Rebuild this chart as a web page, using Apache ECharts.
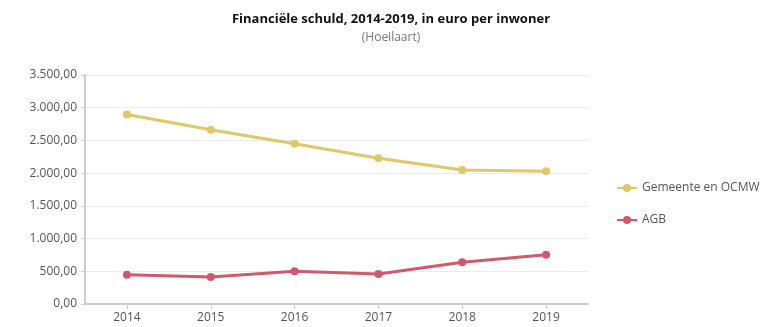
<!DOCTYPE html>
<html><head><meta charset="utf-8">
<script src="https://cdn.jsdelivr.net/npm/echarts@6/dist/echarts.min.js"></script>
<style>html,body{margin:0;padding:0;background:#fff}#c{width:775px;height:327px}</style>
</head><body><div id="c"></div>
<script>
const categories = ['2014','2015','2016','2017','2018','2019'];
const gemeente = [2895, 2664, 2450, 2227, 2048, 2030];
const agb = [448, 413, 499, 458, 637, 754];
const seriesNames = ['Gemeente en OCMW', 'AGB'];
const titleText = 'Financiële schuld, 2014-2019, in euro per inwoner';
const subtitleText = '(Hoeilaart)';

function fmt(v){
  const parts = v.toFixed(2).split('.');
  parts[0] = parts[0].replace(/\B(?=(\d{3})+(?!\d))/g, '.');
  return parts[0] + ',' + parts[1];
}
const chart = echarts.init(document.getElementById('c'));
const font = 'Open Sans';
chart.setOption({
  animation:false,
  title:{text:titleText, subtext:subtitleText, left:386, textAlign:'center', top:8, itemGap:6,
    textStyle:{fontFamily:font, fontSize:13, fontWeight:'bold', color:'#111'},
    subtextStyle:{fontFamily:font, fontSize:12, color:'#777'}},
  legend:{orient:'vertical', left:611, top:177, itemGap:20, itemWidth:20, itemHeight:10,
    textStyle:{fontFamily:font, fontSize:12, color:'#555'}, data:seriesNames},
  grid:{left:85, right:187, top:75, bottom:23},
  xAxis:{type:'category', data:categories, boundaryGap:true,
    axisLine:{lineStyle:{color:'#ccc', width:2}},
    axisTick:{show:true, alignWithLabel:true, lineStyle:{color:'#ccc'}},
    axisLabel:{fontFamily:font, fontSize:12, color:'#555', margin:8}},
  yAxis:{type:'value', min:0, max:3500, interval:500,
    axisLine:{show:true, lineStyle:{color:'#ccc', width:2}},
    axisTick:{show:true, length:4, lineStyle:{color:'#ccc'}},
    splitLine:{lineStyle:{color:'#ebebeb'}},
    axisLabel:{fontFamily:font, fontSize:12, color:'#555', margin:8, formatter:fmt}},
  series:[
    {name:seriesNames[0], type:'line', data:gemeente, symbol:'circle', symbolSize:8,
     lineStyle:{width:3, color:'#e0c767'}, itemStyle:{color:'#e0c767'}},
    {name:seriesNames[1], type:'line', data:agb, symbol:'circle', symbolSize:8,
     lineStyle:{width:3, color:'#cf5a6d'}, itemStyle:{color:'#cf5a6d'}}
  ]
});
</script></body></html>
